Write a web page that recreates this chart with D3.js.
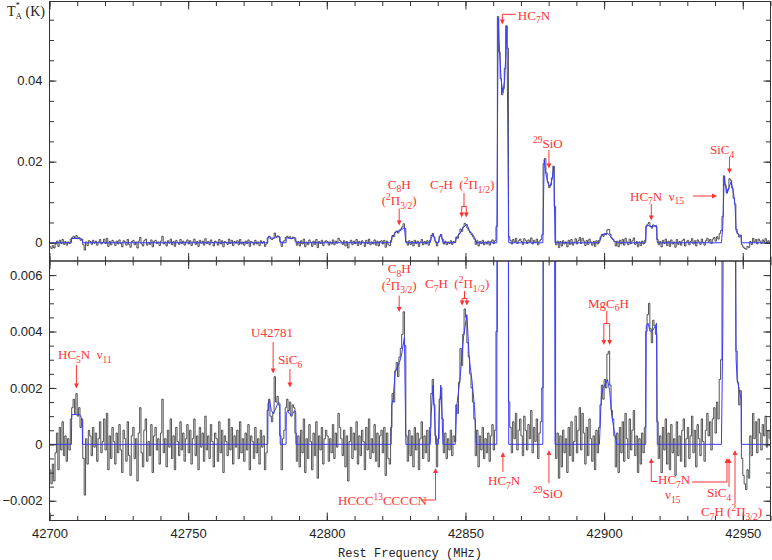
<!DOCTYPE html>
<html><head><meta charset="utf-8">
<script src="https://cdn.jsdelivr.net/npm/d3@7"></script>
<style>body{margin:0;background:#fff}svg{display:block}text{white-space:pre}</style>
</head><body><svg id="chart" width="772" height="560"></svg>
<script>
// ---------------- data ----------------
const xTickValues = [42700, 42750, 42800, 42850, 42900, 42950];
const xTickLabels = ["42700", "42750", "42800", "42850", "42900", "42950"];
const topTickValues = [0, 0.02, 0.04];
const topTickLabels = ["0", "0.02", "0.04"];
const bottomTickValues = [-0.002, 0, 0.002, 0.004, 0.006];
const bottomTickLabels = ["\u22120.002", "0", "0.002", "0.004", "0.006"];
const xLabel = "Rest Frequency (MHz)";
const yLabelMain = "T", yLabelSup = "*", yLabelSub = "A", yLabelUnit = "(K)";

// observed spectrum, mK, channels of 0.5 MHz starting at 42700.25 MHz (one row = 10 MHz)
const firstChannelMHz = 42700.25;
const channelWidthMHz = 0.5;
const spectrumMK = [
  -0.9,-1.4,-0.7,-1.3,-0.3,0.4,-0.9,0.6,-0.2,0.8,-0.4,0.3,-0.6,0.2,-0.2,0.9,1.3,1.6,1.1,1.8,
  1.0,1.3,0.6,0.9,-0.5,-1.8,0.2,-0.7,0.5,0.3,-0.4,0.6,-0.1,0.4,-0.6,0.2,0.8,-0.3,0.1,0.9,
  -0.2,1.1,-0.9,0.3,-0.5,0.6,0.1,-0.7,0.4,-0.3,0.7,-0.2,-1.0,0.5,0.2,-0.6,0.8,-0.4,-1.1,0.3,
  0.6,-0.5,0.2,-1.3,0.4,1.3,-0.3,-0.8,0.5,0.9,-0.6,0.1,-0.4,0.7,-1.0,0.3,0.6,-0.2,0.2,-0.7,
  0.4,1.6,-0.3,0.2,-0.8,0.5,-0.1,0.9,-0.5,0.3,-0.9,0.6,0.1,-0.4,0.8,-0.2,0.4,-0.6,0.2,0.7,
  -0.3,0.5,-0.7,0.2,0.9,-0.4,0.3,-0.9,0.6,-0.1,0.4,-0.6,1.0,-0.2,0.3,-0.5,0.7,0.1,-0.8,0.4,
  0.2,-0.6,0.8,-0.3,0.5,-1.0,0.3,0.1,-0.4,0.9,-0.2,0.6,-0.7,0.3,-0.1,0.5,-0.5,0.8,-0.3,0.2,
  -0.6,0.4,-0.2,0.7,-0.9,0.3,0.1,-0.5,0.6,-0.3,0.2,-0.7,0.5,-0.1,0.3,-0.9,-0.3,1.2,1.6,1.0,
  0.8,1.1,2.4,1.5,1.7,1.4,0.3,-0.9,0.2,0.5,1.3,1.6,1.2,1.5,1.0,1.4,1.3,0.4,-0.6,0.3,
  -0.8,0.5,-0.3,0.9,-1.0,0.2,-0.5,0.7,0.1,-0.9,0.4,-0.4,0.8,-1.2,0.3,-0.2,0.6,-0.7,0.2,0.5,
  0.3,-0.6,0.2,-0.3,0.7,-0.5,0.4,-0.1,1.1,0.6,0.2,-0.4,0.5,-0.8,0.3,-1.3,0.1,0.6,-0.5,0.4,
  -0.2,0.8,-0.7,0.3,-0.4,0.5,0.1,-0.9,0.6,-0.2,0.9,-0.5,0.2,-0.3,0.7,-0.6,0.4,-0.8,0.3,0.5,
  -0.3,0.6,-1.1,0.4,-0.5,-0.7,0.6,1.8,1.5,2.6,2.9,2.4,3.1,3.4,3.9,4.7,3.5,0.3,-0.6,0.5,
  -0.4,0.3,-0.8,0.6,-0.2,0.4,-0.9,0.2,0.8,-0.5,0.3,-0.3,0.5,-0.6,0.6,1.8,2.3,1.4,0.3,-0.8,
  0.2,1.6,2.0,0.9,-0.3,0.4,-0.5,0.2,-0.2,0.5,-0.4,0.3,0.1,1.4,1.1,2.2,3.4,2.8,3.9,4.8,
  4.5,3.6,3.1,2.5,2.0,1.5,0.9,-0.4,0.5,-0.8,0.3,-0.2,0.6,-0.5,0.2,-0.3,0.4,-0.6,0.3,0.7,
  -0.2,0.5,4.0,55.8,47.0,40.5,36.5,38.0,43.0,53.5,48.0,1.5,0.6,-0.3,0.8,0.2,1.1,-0.2,0.5,0.9,
  0.3,-0.4,1.0,0.5,-0.2,0.7,0.2,1.2,-0.3,0.6,0.1,0.9,-0.5,0.4,0.8,2.0,19.5,20.8,17.2,15.0,
  13.6,14.2,16.0,18.9,9.0,-0.5,0.4,-1.2,0.3,-0.8,0.5,-0.3,0.2,-1.0,0.6,-0.4,0.8,-0.6,0.1,1.0,
  -0.3,0.5,1.3,-0.2,1.1,0.4,-0.7,0.6,-0.4,0.9,0.2,-0.6,0.3,-0.9,0.5,-0.3,0.6,1.4,2.1,1.6,
  2.3,2.0,3.2,3.3,2.1,1.2,0.9,0.3,-0.8,0.4,-1.0,0.6,-0.3,0.8,-0.6,1.1,0.2,-0.5,0.9,-0.2,
  0.5,1.2,-0.4,0.3,-1.0,0.2,-0.7,0.4,-0.3,0.6,4.0,4.6,5.0,4.1,3.6,4.4,4.2,3.9,0.8,-0.5,
  0.3,-1.0,0.6,-0.2,0.9,-0.7,0.4,-0.9,0.7,-0.3,0.2,-1.1,0.8,-0.4,0.3,-0.6,0.5,0.9,-0.8,0.2,
  0.6,-0.5,0.3,1.0,-0.3,0.5,-0.8,0.7,0.2,-0.4,0.9,0.1,-0.6,0.5,1.1,0.3,0.8,-0.2,0.9,1.3,
  0.4,1.5,0.9,2.3,3.0,6.5,16.5,14.2,12.3,13.2,15.8,15.4,13.5,11.0,9.5,3.3,2.2,1.4,1.9,-0.5,
  -1.1,-1.4,-1.6,-0.9,-1.2,0.3,-0.4,1.1,0.2,0.8,-0.3,0.9,0.4,-0.2,0.7,0.3,1.0,-0.1,0.5,0.2
];

// fitted model (blue), breakpoints: frequency (MHz) and intensity (mK)
const modelFreqMHz = [
  42700, 42707.9, 42708.0, 42710.8, 42711.5, 42711.8, 42711.9,
  42778.7, 42778.8, 42779.3, 42780.0, 42780.6, 42781.5, 42782.5, 42783.1, 42783.2,
  42785.3, 42785.4, 42785.9, 42786.5, 42787.1, 42787.8, 42788.4, 42788.8, 42788.9,
  42823.2, 42823.4, 42823.9, 42824.7, 42825.5, 42826.2, 42827.0, 42828.0, 42828.5,
  42837.3, 42837.6, 42838.3, 42838.8, 42839.3,
  42840.2, 42840.5, 42841.1, 42841.5, 42841.9,
  42846.3, 42846.8, 42848.1, 42849.3, 42850.5, 42851.4, 42852.3, 42853.3, 42853.9,
  42861.3, 42861.8, 42862.3, 42862.9, 42863.5, 42864.1, 42864.6, 42864.95, 42865.6,
  42877.9, 42878.4, 42879.0, 42879.8, 42880.5, 42881.2, 42881.9, 42882.3,
  42898.3, 42899.0, 42899.6, 42900.5, 42901.2, 42902.0, 42902.8, 42903.6, 42904.6,
  42915.0, 42915.2, 42915.8, 42916.6, 42917.6, 42918.5, 42918.9, 42919.2,
  42942.3, 42942.8, 42943.3, 42943.9, 42944.4, 42945.0, 42945.8, 42946.6, 42947.2, 42947.6, 42948.0, 42949.0, 42949.4, 42949.5,
  42960
];
const modelMK = [
  0, 0, 1.05, 1.07, 0.95, 0.8, 0,
  0, 1.45, 1.55, 1.2, 1.1, 1.25, 1.5, 1.45, 0,
  0, 1.1, 1.2, 1.08, 1.03, 1.1, 1.2, 1.15, 0,
  0, 1.4, 1.6, 2.6, 2.75, 2.9, 3.2, 3.8, 0,
  0, 1.0, 2.1, 1.2, 0,
  0, 1.0, 2.1, 1.2, 0,
  0, 1.3, 2.4, 3.8, 4.6, 3.0, 2.3, 1.3, 0,
  0, 55.5, 47, 40, 37, 40, 47, 53.5, 0,
  0, 20.5, 17.0, 14.6, 13.9, 15.5, 18.8, 0,
  0, 1.7, 2.0, 2.15, 2.3, 1.9, 1.0, 0.5, 0,
  0, 4.2, 4.3, 4.0, 4.05, 4.2, 4.3, 0,
  0, 4.0, 16.3, 13.5, 12.2, 13.5, 15.1, 12.5, 9.5, 3.0, 2.3, 1.8, 1.6, 0,
  0
];

// ---------------- drawing ----------------
const svg = d3.select("#chart");
const RED = "#ff3333", BLUE = "#3a3aff", INK = "#333";
const L = 49.5, R = 770.5, T0 = 1.5, MID = 261, B = 520.5;

const x = d3.scaleLinear().domain([42700, 42960]).range([L, R]);
const yTop = d3.scaleLinear().domain([-0.0045, 0.0595]).range([MID, T0]);
const yBot = d3.scaleLinear().domain([-0.0027, 0.0065]).range([B, MID]);

const defs = svg.append("defs");
defs.append("clipPath").attr("id", "clipTop").append("rect")
  .attr("x", L).attr("y", T0).attr("width", R - L).attr("height", MID - T0);
defs.append("clipPath").attr("id", "clipBot").append("rect")
  .attr("x", L).attr("y", MID).attr("width", R - L).attr("height", B - MID);

const spectrum = spectrumMK.map((v, i) => ({ f: firstChannelMHz + i * channelWidthMHz, v: v / 1000 }));
const model = modelFreqMHz.map((f, i) => ({ f, v: modelMK[i] / 1000 }));

function drawPanel(y, clipId) {
  const g = svg.append("g").attr("clip-path", `url(#${clipId})`);
  g.append("path").datum(spectrum)
    .attr("d", d3.line().x(d => x(d.f)).y(d => y(d.v)).curve(d3.curveStep))
    .attr("fill", "none").attr("stroke", "#2a2a2a").attr("stroke-width", 0.8);
  g.append("path").datum(model)
    .attr("d", d3.line().x(d => x(d.f)).y(d => y(d.v)))
    .attr("fill", "none").attr("stroke", BLUE).attr("stroke-width", 1);
}
drawPanel(yTop, "clipTop");
drawPanel(yBot, "clipBot");

const xMinor = d3.range(42700, 42961, 10);
function styleAxis(g) {
  g.select(".domain").remove();
  g.selectAll(".tick line").attr("stroke", INK).attr("stroke-width", 1);
  g.selectAll("text").attr("fill", "#222").attr("font-family", "Liberation Sans, Arial, sans-serif").attr("font-size", 13);
}
function xAxes(yPos, dirUp, withLabels) {
  const maker = dirUp ? d3.axisBottom : d3.axisTop;
  const gMin = svg.append("g").attr("transform", `translate(0,${yPos})`)
    .call(maker(x).tickValues(xMinor).tickSize(-4.5).tickFormat(""));
  styleAxis(gMin);
  const gMaj = svg.append("g").attr("transform", `translate(0,${yPos})`)
    .call(maker(x).tickValues(xTickValues).tickSize(-8)
      .tickPadding(8).tickFormat((d, i) => withLabels ? xTickLabels[i] : ""));
  styleAxis(gMaj);
}
xAxes(MID, true, false);   // bottom of top panel
xAxes(T0, false, false);   // top of top panel
xAxes(MID, false, false);  // top of bottom panel
xAxes(B, true, true);      // bottom of bottom panel

function yAxes(y, majors, labels, minorStep) {
  const dom = y.domain();
  const minors = d3.range(Math.ceil(dom[0] / minorStep) * minorStep, dom[1], minorStep);
  [[d3.axisLeft, L, true], [d3.axisRight, R, false]].forEach(([maker, xp, lab]) => {
    const gMin = svg.append("g").attr("transform", `translate(${xp},0)`)
      .call(maker(y).tickValues(minors).tickSize(-4.5).tickFormat(""));
    styleAxis(gMin);
    const gMaj = svg.append("g").attr("transform", `translate(${xp},0)`)
      .call(maker(y).tickValues(majors).tickSize(-7).tickPadding(7)
        .tickFormat((d, i) => lab ? labels[i] : ""));
    styleAxis(gMaj);
  });
}
yAxes(yTop, topTickValues, topTickLabels, 0.005);
yAxes(yBot, bottomTickValues, bottomTickLabels, 0.0005);

// frames
[[T0, MID], [MID, B]].forEach(([a, b]) => {
  svg.append("rect").attr("x", L).attr("y", a).attr("width", R - L).attr("height", b - a)
    .attr("fill", "none").attr("stroke", INK).attr("stroke-width", 1);
});

// axis titles
svg.append("text").attr("x", 410).attr("y", 557).attr("text-anchor", "middle")
  .attr("font-family", "Liberation Mono, Courier New, monospace").attr("font-size", 12)
  .attr("fill", "#222").text(xLabel);
const yt = svg.append("g").attr("font-family", "Liberation Serif, Times New Roman, serif").attr("fill", "#222");
yt.append("text").attr("x", 7).attr("y", 15.5).attr("font-size", 14).text(yLabelMain);
yt.append("text").attr("x", 15.5).attr("y", 8).attr("font-size", 9).text(yLabelSup);
yt.append("text").attr("x", 15.5).attr("y", 18.5).attr("font-size", 9).text(yLabelSub);
yt.append("text").attr("x", 25.5).attr("y", 15.5).attr("font-size", 14).text(yLabelUnit);

// ---------------- annotations ----------------
const ann = svg.append("g");
function rich(xp, yp, str, anchor) {
  const t = ann.append("text").attr("x", xp).attr("y", yp)
    .attr("font-family", "Liberation Serif, Times New Roman, serif").attr("font-size", 13)
    .attr("fill", RED).attr("text-anchor", anchor || "start");
  const re = /([_^])\{([^}]*)\}|([^_^]+)/g;
  let m, shift = 0;
  while ((m = re.exec(str))) {
    if (m[3] !== undefined) {
      t.append("tspan").attr("dy", -shift).text(m[3]); shift = 0;
    } else {
      const d = m[1] === "_" ? 3.5 : -5;
      t.append("tspan").attr("dy", d - shift).attr("font-size", 9.5).text(m[2]); shift = d;
    }
  }
}
function poly(pts) {
  ann.append("path").attr("d", "M" + pts.map(p => p.join(",")).join("L"))
    .attr("fill", "none").attr("stroke", RED).attr("stroke-width", 1);
}
function arrow(x1, y1, x2, y2) {
  const ang = Math.atan2(y2 - y1, x2 - x1), c = Math.cos(ang), s = Math.sin(ang);
  const hl = 5, hw = 2.4;
  ann.append("line").attr("x1", x1).attr("y1", y1).attr("x2", x2 - c * 2).attr("y2", y2 - s * 2)
    .attr("stroke", RED).attr("stroke-width", 1);
  const p = [[x2, y2], [x2 - hl * c + hw * s, y2 - hl * s - hw * c], [x2 - hl * c - hw * s, y2 - hl * s + hw * c]];
  ann.append("path").attr("d", "M" + p.map(q => q.join(",")).join("L") + "Z").attr("fill", RED);
}
function bracket(f1, f2, yTopB, yMid, yTip) {
  const x1 = x(f1), x2 = x(f2), c = (x1 + x2) / 2;
  poly([[c, yTopB], [c, yMid]]);
  poly([[x1, yMid], [x2, yMid]]);
  arrow(x1, yMid, x1, yTip);
  arrow(x2, yMid, x2, yTip);
}

// top panel
let a = x(42863.3);
poly([[a + 13.5, 14.3], [a, 14.3]]); arrow(a, 14.3, a, 24.5);
rich(a + 15.5, 19.5, "HC_{7}N");
a = x(42880.1); rich(a - 16, 148, "^{29}SiO"); arrow(a, 150, a, 168.5);
a = x(42826.1); rich(a, 188.5, "C_{8}H", "middle"); rich(a, 205, "(^{2}\u03A0_{3/2})", "middle"); arrow(a, 208.5, a, 225.5);
rich(430, 189, "C_{7}H  (^{2}\u03A0_{1/2})"); bracket(42848.65, 42850.3, 193, 206.5, 217.5);
rich(630, 200.5, "HC_{7}N  \u03BD_{15}"); a = x(42917.0); arrow(a, 204, a, 220.5); arrow(693, 196, 717, 196);
rich(710, 154, "SiC_{4}"); a = x(42945.2); arrow(a, 157, a, 173.5);

// bottom panel
rich(58, 359, "HC_{5}N  \u03BD_{11}"); a = x(42709.7); arrow(a, 365, a, 388.5);
rich(251, 336.5, "U42781"); a = x(42780.65); arrow(a, 342, a, 373.5);
rich(278, 364, "SiC_{6}"); a = x(42786.7); arrow(a, 369, a, 387.5);
a = x(42826.1); rich(a, 273, "C_{8}H", "middle"); rich(a, 289.5, "(^{2}\u03A0_{3/2})", "middle"); arrow(a, 295.5, a, 312);
rich(425, 288, "C_{7}H  (^{2}\u03A0_{1/2})"); bracket(42848.8, 42850.5, 291, 298.5, 305.5);
rich(338, 505, "HCCC^{13}CCCCN"); a = x(42839.2); poly([[421, 500], [a, 500]]); arrow(a, 500, a, 468);
rich(488, 485, "HC_{7}N"); a = x(42863.5); arrow(a, 472, a, 452);
rich(533, 497.5, "^{29}SiO"); a = x(42880.1); arrow(a, 483, a, 450);
rich(588, 307.5, "MgC_{6}H"); bracket(42899.9, 42902.0, 311, 323.5, 345);
rich(658, 484, "HC_{7}N"); rich(665, 499, "\u03BD_{15}");
a = x(42917.0); poly([[657, 481.5], [a, 481.5]]); arrow(a, 481.5, a, 458);
a = x(42944.3); poly([[692, 482], [a, 482]]); arrow(a, 482, a, 458);
rich(707, 497, "SiC_{4}"); a = x(42945.05); arrow(a, 487, a, 458);
rich(701, 516, "C_{7}H (^{2}\u03A0_{3/2})"); a = x(42947.2); arrow(a, 504, a, 450);
</script>
</body></html>
